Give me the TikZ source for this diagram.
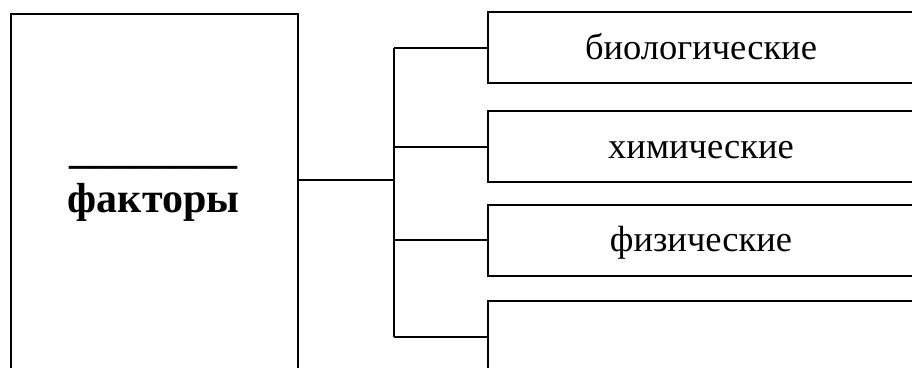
\documentclass[tikz,border=0pt]{standalone}
\usepackage{fontspec}
\setmainfont{Liberation Serif}
\usetikzlibrary{positioning}

\tikzset{
  kind/.style={draw, line width=2pt, minimum width=426pt, minimum height=71pt,
    anchor=west, inner sep=0pt, text height=23pt, text depth=0pt,
    font=\fontsize{36.5}{42}\selectfont},
  link/.style={line width=2pt}
}

\begin{document}
\begin{tikzpicture}[x=1pt,y=-1pt]
\useasboundingbox (0,0) rectangle (912,367);
\clip (0,0) rectangle (912,367);
% left box
\node[draw, line width=2pt, anchor=north west, minimum width=287pt, minimum height=500pt,
  inner sep=0pt] (fact) at (10,13) {};
\node[align=center, font=\bfseries\fontsize{42}{49}\selectfont] (factlbl) at (153.5,192)
  {\_\_\_\_\_\_\_\_\\факторы};
% kinds
\node[kind] (bio) at (487,47.5) {биологические};
\node[kind] (chem) at (487,146.5) {химические};
\node[kind] (phys) at (487,240) {физические};
\node[kind] (other) at (487,336.5) {};
% links
\coordinate (hub) at (394,180);
\coordinate (top) at (394,47.5);
\coordinate (bot) at (394,336.5);
\draw[link] (fact.east |- hub) -- (hub);
\draw[link] (top) -- (bot);
\draw[link] (top) -- (bio.west);
\draw[link] (top |- chem.west) -- (chem.west);
\draw[link] (top |- phys.west) -- (phys.west);
\draw[link] (bot) -- (other.west);
\end{tikzpicture}
\end{document}
